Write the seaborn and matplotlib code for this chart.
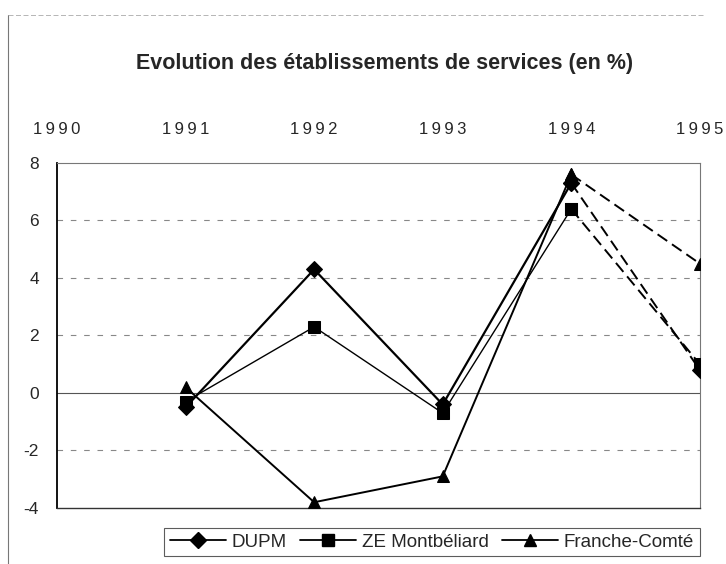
import pandas as pd
import numpy as np
import seaborn as sns
import matplotlib.pyplot as plt
from matplotlib.lines import Line2D

# data
years = [1991, 1992, 1993, 1994, 1995]
year_ticks = [1990, 1991, 1992, 1993, 1994, 1995]
dupm = [-0.5, 4.3, -0.4, 7.3, 0.8]
ze_montbeliard = [-0.3, 2.3, -0.7, 6.4, 1.0]
franche_comte = [0.2, -3.8, -2.9, 7.6, 4.5]
series_names = ['DUPM', 'ZE Montbéliard', 'Franche-Comté']
y_ticks = [-4, -2, 0, 2, 4, 6, 8]

df = pd.DataFrame({'annee': years * 3,
                   'valeur': dupm + ze_montbeliard + franche_comte,
                   'serie': np.repeat(series_names, len(years))})
# last segment (1994 -> 1995) is an estimate, drawn dashed
solid = df[df.annee <= 1994]
dashed = df[df.annee >= 1994]

sns.set_style('white')
plt.rcParams['font.family'] = ['Liberation Sans', 'DejaVu Sans']

markers = {'DUPM': 'D', 'ZE Montbéliard': 's', 'Franche-Comté': '^'}
widths = {'DUPM': 1.6, 'ZE Montbéliard': 1.0, 'Franche-Comté': 1.4}
msizes = {'DUPM': 8, 'ZE Montbéliard': 8.5, 'Franche-Comté': 9}

fig = plt.figure(figsize=(7.26, 5.64), dpi=100)
ax = fig.add_axes([0.0785, 0.0993, 0.8855, 0.6117])

for name in series_names:
    sns.lineplot(data=solid[solid.serie == name], x='annee', y='valeur',
                 color='black', lw=widths[name], marker=markers[name],
                 markersize=msizes[name], markeredgecolor='black',
                 ax=ax, legend=False, zorder=3)
    sns.lineplot(data=dashed[dashed.serie == name], x='annee', y='valeur',
                 color='black', lw=1.4, dashes=(6, 3), marker=markers[name],
                 markersize=msizes[name], markeredgecolor='black',
                 ax=ax, legend=False, zorder=3)

ax.set_xlim(1990, 1995)
ax.set_ylim(-4, 8)
ax.set_yticks(y_ticks)
ax.set_yticklabels([str(v) for v in y_ticks])
ax.set_xticks(year_ticks)
ax.xaxis.tick_top()
ax.tick_params(axis='x', length=0, pad=19, labelsize=12)
ax.tick_params(axis='y', length=0, pad=13, labelsize=12.5)
ax.set_xticklabels(['\u2009'.join(str(y)) for y in year_ticks])
ax.set_xlabel('')
ax.set_ylabel('')

for v in [-2, 2, 4, 6]:
    ax.axhline(v, color='#888888', lw=0.8, ls=(0, (5, 7)), zorder=1)
ax.axhline(0, color='#555555', lw=0.8, zorder=1)

ax.spines['left'].set_color('black')
ax.spines['left'].set_linewidth(1.3)
ax.spines['bottom'].set_color('#333333')
ax.spines['bottom'].set_linewidth(1.0)
for s in ['top', 'right']:
    ax.spines[s].set_color('#777777')
    ax.spines[s].set_linewidth(0.8)

fig.text(0.53, 0.888, 'Evolution des établissements de services (en %)',
         ha='center', va='center', fontsize=15.5, fontweight='bold')

handles = [Line2D([], [], color='black', lw=1.3, marker=markers[n],
                  markersize=msizes[n]) for n in series_names]
leg = fig.legend(handles, series_names, loc='center', ncol=3,
                 bbox_to_anchor=(0.595, 0.039), fontsize=13.5,
                 frameon=True, fancybox=False, handlelength=3.0,
                 columnspacing=0.7, handletextpad=0.3, borderpad=0.3,
                 borderaxespad=0.2)
leg.get_frame().set_edgecolor('#333333')
leg.get_frame().set_linewidth(0.8)

# scan border of the page
fig.add_artist(Line2D([0.011, 0.011], [0.0, 0.973], color='#777777', lw=0.8))
fig.add_artist(Line2D([0.011, 0.97], [0.973, 0.973], color='#aaaaaa', lw=0.6,
                      ls=(0, (6, 3))))

plt.savefig('out.png', dpi=100)
plt.close()
